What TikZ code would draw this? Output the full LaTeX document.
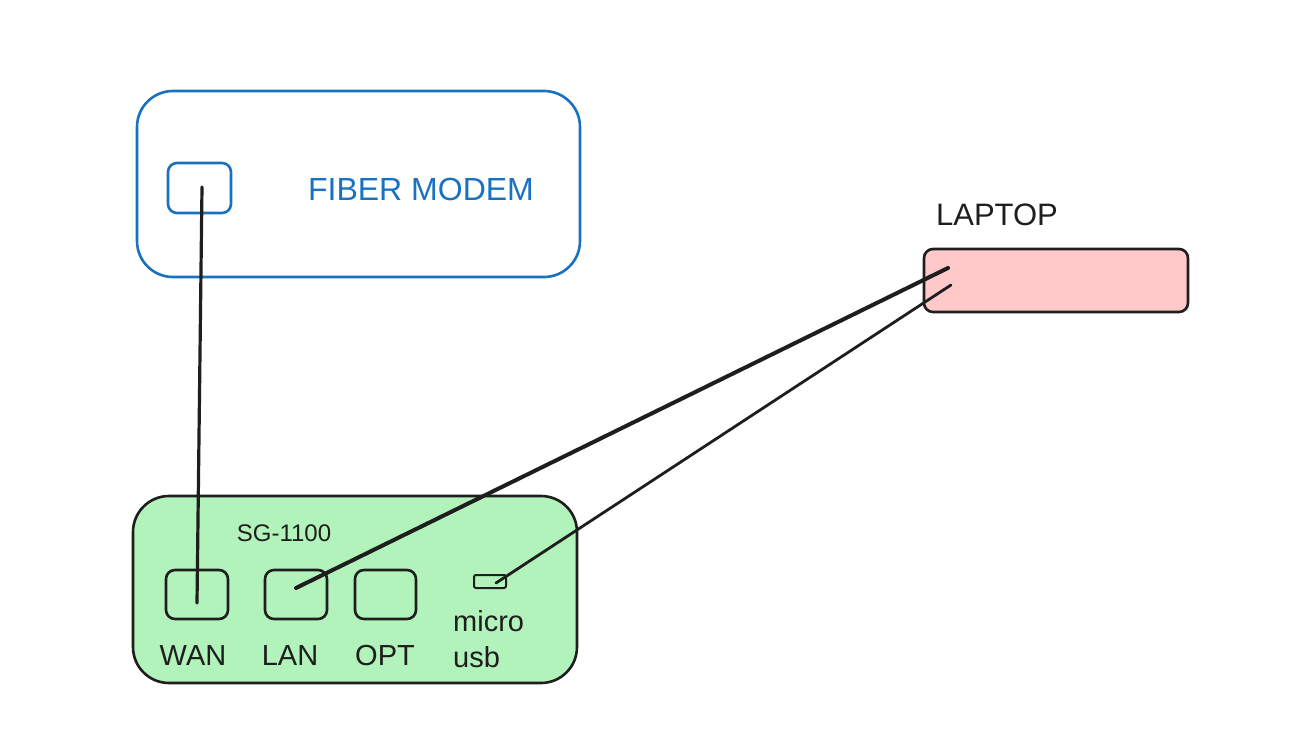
\documentclass[tikz,border=0pt]{standalone}
\usepackage{fontspec}
\setmainfont{Liberation Sans}
\definecolor{exblue}{HTML}{1971C2}
\definecolor{exink}{HTML}{1E1E1E}
\definecolor{exgreen}{HTML}{B2F2BB}
\definecolor{expink}{HTML}{FFC9C9}
\begin{document}
\begin{tikzpicture}[x=1pt,y=-1pt,
  box/.style={draw=exink,line width=2.6pt,rounded corners=#1},
  box/.default=10pt,
  lbl/.style={font=\fontsize{29}{36}\selectfont,text=exink,inner sep=0pt},
  cable/.style={draw=exink,line cap=round}]
\useasboundingbox (0,0) rectangle (1314,754);
% fiber modem
\draw[box=36pt,draw=exblue] (137,91) rectangle (580,277);
\draw[box=9pt,draw=exblue] (168,163) rectangle (231,213);
\node[lbl,text=exblue,font=\fontsize{32}{36}\selectfont] (modemlbl) at (421,189) {FIBER MODEM};
\coordinate (modemport) at (202,187);
% router
\draw[box=36pt,fill=exgreen] (133,496) rectangle (577,683);
\node[lbl,font=\fontsize{24}{30}\selectfont] (sglbl) at (284,533) {SG-1100};
\draw[box=9pt] (166,570) rectangle (228,619);
\draw[box=9pt] (265,570) rectangle (327,619);
\draw[box=9pt] (355,570) rectangle (416,619);
\draw[draw=exink,line width=2pt,rounded corners=2pt] (474,575) rectangle (506,588);
\node[lbl] (wan) at (193,656) {WAN};
\node[lbl] (lan) at (290,656) {LAN};
\node[lbl] (opt) at (385,656) {OPT};
\node[lbl,align=left,anchor=north west] (usb) at (453,610) {micro\\usb};
\coordinate (wanport) at (197,603);
\coordinate (lanport) at (296,588);
\coordinate (usbport) at (496,583);
% laptop
\draw[box=9pt,fill=expink] (924,249) rectangle (1188,312);
\node[lbl,font=\fontsize{31}{36}\selectfont] (laptoplbl) at (997,215) {LAPTOP};
\coordinate (lapA) at (948,268);
\coordinate (lapB) at (951,285);
% cables
\draw[cable,line width=3.2pt] (modemport) -- (wanport);
\draw[cable,line width=4pt] (lanport) -- (lapA);
\draw[cable,line width=2.8pt] (usbport) -- (lapB);
\end{tikzpicture}
\end{document}
